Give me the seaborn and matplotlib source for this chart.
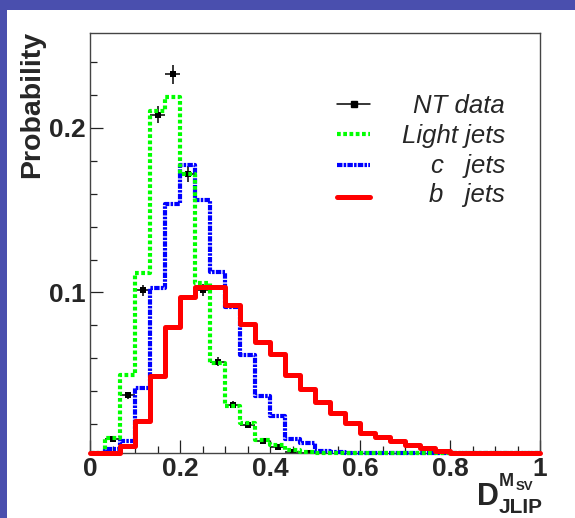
import numpy as np
import pandas as pd
import matplotlib
matplotlib.use("Agg")
import matplotlib.pyplot as plt
import seaborn as sns
from matplotlib.lines import Line2D
from matplotlib.patches import Rectangle

# 30 bins between 0 and 1
bin_edges = list(np.linspace(0, 1, 31))
bin_centers = [(bin_edges[i] + bin_edges[i + 1]) / 2 for i in range(30)]

# probabilities, one value per bin
nt_data = [0, 0.0112, 0.0375, 0.1012, 0.2080, 0.2325, 0.1720, 0.1015, 0.0580, 0.0318,
           0.0193, 0.0099, 0.0062, 0.0032, 0.0021, 0.0012, 0.0007, 0.0004, 0, 0,
           0, 0, 0, 0, 0, 0, 0, 0, 0, 0]
nt_err = [0, 0.0012, 0.0022, 0.0035, 0.0052, 0.0055, 0.0047, 0.0036, 0.0028, 0.0020,
          0.0016, 0.0011, 0.0009, 0.0006, 0.0005, 0.0004, 0.0003, 0.0002, 0, 0,
          0, 0, 0, 0, 0, 0, 0, 0, 0, 0]
light_jets = [0, 0.0115, 0.0500, 0.1120, 0.2100, 0.2190, 0.1720, 0.1060, 0.0570, 0.0310,
              0.0205, 0.0103, 0.0073, 0.0043, 0.0030, 0.0020, 0.0012, 0.0010, 0.0008, 0.0005,
              0.0004, 0.0003, 0.0002, 0.0002, 0.0001, 0, 0, 0, 0, 0]
c_jets = [0, 0.0047, 0.0098, 0.0417, 0.1030, 0.1540, 0.1777, 0.1563, 0.1126, 0.0912,
          0.0617, 0.0373, 0.0250, 0.0110, 0.0084, 0.0037, 0.0030, 0.0022, 0.0020, 0.0018,
          0.0015, 0.0012, 0.0010, 0.0008, 0.0005, 0.0003, 0.0002, 0.0001, 0, 0]
b_jets = [0, 0, 0.0065, 0.0220, 0.0495, 0.0790, 0.0973, 0.1034, 0.1034, 0.0922,
          0.0810, 0.0698, 0.0627, 0.0499, 0.0413, 0.0335, 0.0265, 0.0204, 0.0146, 0.0122,
          0.0098, 0.0071, 0.0053, 0.0037, 0.0026, 0.0015, 0.0010, 0.0005, 0.0003, 0]

x_ticks = [0, 0.2, 0.4, 0.6, 0.8, 1.0]
x_ticklabels = ["0", "0.2", "0.4", "0.6", "0.8", "1"]
y_ticks = [0.1, 0.2]
y_ticklabels = ["0.1", "0.2"]

sns.set_style("ticks")
plt.rcParams["font.family"] = ["Liberation Sans", "DejaVu Sans"]

W, H = 575, 518
y_lo, y_hi = 0.0024, 0.2577


def fx(px):
    return px / W


def fy(py):
    return 1 - py / H


fig = plt.figure(figsize=(W / 100, H / 100), dpi=100)
fig.patch.set_facecolor("#4a4fae")
fig.add_artist(Rectangle((fx(7), 0), 1, fy(10), transform=fig.transFigure,
                         facecolor="white", edgecolor="none", zorder=-10))

ax = fig.add_axes([fx(90), fy(453), fx(540) - fx(90), fy(33) - fy(453)])
ax.set_facecolor("white")

df = pd.DataFrame({"x": bin_centers, "nt": nt_data, "err": nt_err,
                   "light": light_jets, "c": c_jets, "b": b_jets})
# ROOT draws contents below the frame minimum on the frame
for col in ["light", "c", "b"]:
    df[col + "_draw"] = np.maximum(df[col], y_lo)

# data points
pts = df[df["nt"] > 0]
ax.errorbar(pts["x"], pts["nt"], xerr=1 / 60, yerr=pts["err"], fmt="none",
            ecolor="black", elinewidth=1.1, capsize=0, zorder=2)
sns.scatterplot(data=pts, x="x", y="nt", marker="s", s=24, color="black",
                edgecolor="black", linewidth=0, ax=ax, zorder=2.5)

sns.histplot(data=df, x="x", weights="c_draw", bins=bin_edges, element="step",
             fill=False, color="#0000ff", linewidth=3.0, dashes=(1.3, 0.3, 0.6, 0.3),
             ax=ax, zorder=3, clip_on=False)
sns.histplot(data=df, x="x", weights="light_draw", bins=bin_edges, element="step",
             fill=False, color="#00ff00", linewidth=3.0, dashes=(0.9, 0.6),
             ax=ax, zorder=4, clip_on=False)
sns.histplot(data=df, x="x", weights="b_draw", bins=bin_edges, element="step",
             fill=False, color="#ff0000", linewidth=3.6, ax=ax, zorder=5, clip_on=False)

ax.set_xlim(0, 1)
ax.set_ylim(y_lo, y_hi)
ax.set_xlabel("")
ax.set_ylabel("")
ax.set_xticks(x_ticks)
ax.set_xticklabels(x_ticklabels, fontweight="bold", fontsize=19)
ax.set_xticks(np.arange(0.05, 1.0, 0.05), minor=True)
ax.set_yticks(y_ticks)
ax.set_yticklabels(y_ticklabels, fontweight="bold", fontsize=19)
ax.set_yticks(np.arange(0.02, 0.25, 0.02), minor=True)
ax.tick_params(which="major", direction="in", length=9.5, width=0.9, pad=3, color="#222222")
ax.tick_params(which="minor", direction="in", length=4.8, width=0.9, color="#222222")
for s in ax.spines.values():
    s.set_color("#444444")
    s.set_linewidth(1.0)

# axis titles
fig.text(fx(32), fy(31), "Probability", rotation=90, ha="center", va="top",
         fontsize=20.5, fontweight="bold")
fig.text(fx(477), fy(505), "D", fontsize=22, fontweight="bold", ha="left", va="baseline")
fig.text(fx(499), fy(513), "JLIP", fontsize=15, fontweight="bold", ha="left", va="baseline")
fig.text(fx(499), fy(486), "M", fontsize=13, fontweight="bold", ha="left", va="baseline")
fig.text(fx(516), fy(490), "SV", fontsize=9.5, fontweight="bold", ha="left", va="baseline")

# legend
leg_x0, leg_x1, txt_x = fx(337), fx(370), fx(505)
rows = [("NT data", 104, 113), ("Light jets", 133.5, 143), ("c   jets", 165, 172.5),
        ("b   jets", 196.5, 202)]
fig.add_artist(Line2D([leg_x0, leg_x1], [fy(104)] * 2, color="black", lw=1.1,
                      transform=fig.transFigure))
fig.add_artist(Line2D([(leg_x0 + leg_x1) / 2], [fy(104)], marker="s", ms=4.5,
                      color="black", transform=fig.transFigure))
fig.add_artist(Line2D([leg_x0, leg_x1], [fy(133.5)] * 2, color="#00ff00", lw=3.0,
                      dashes=(0.9, 0.6), transform=fig.transFigure))
fig.add_artist(Line2D([leg_x0, leg_x1], [fy(165)] * 2, color="#0000ff", lw=3.0,
                      dashes=(1.3, 0.3, 0.6, 0.3), transform=fig.transFigure))
fig.add_artist(Line2D([leg_x0, leg_x1], [fy(196.5)] * 2, color="#ff0000", lw=3.6,
                      transform=fig.transFigure))
for label, _, base in rows:
    fig.text(txt_x, fy(base), label, fontsize=18.5, fontstyle="italic",
             ha="right", va="baseline")

fig.savefig("out.png", dpi=100, facecolor=fig.get_facecolor())
